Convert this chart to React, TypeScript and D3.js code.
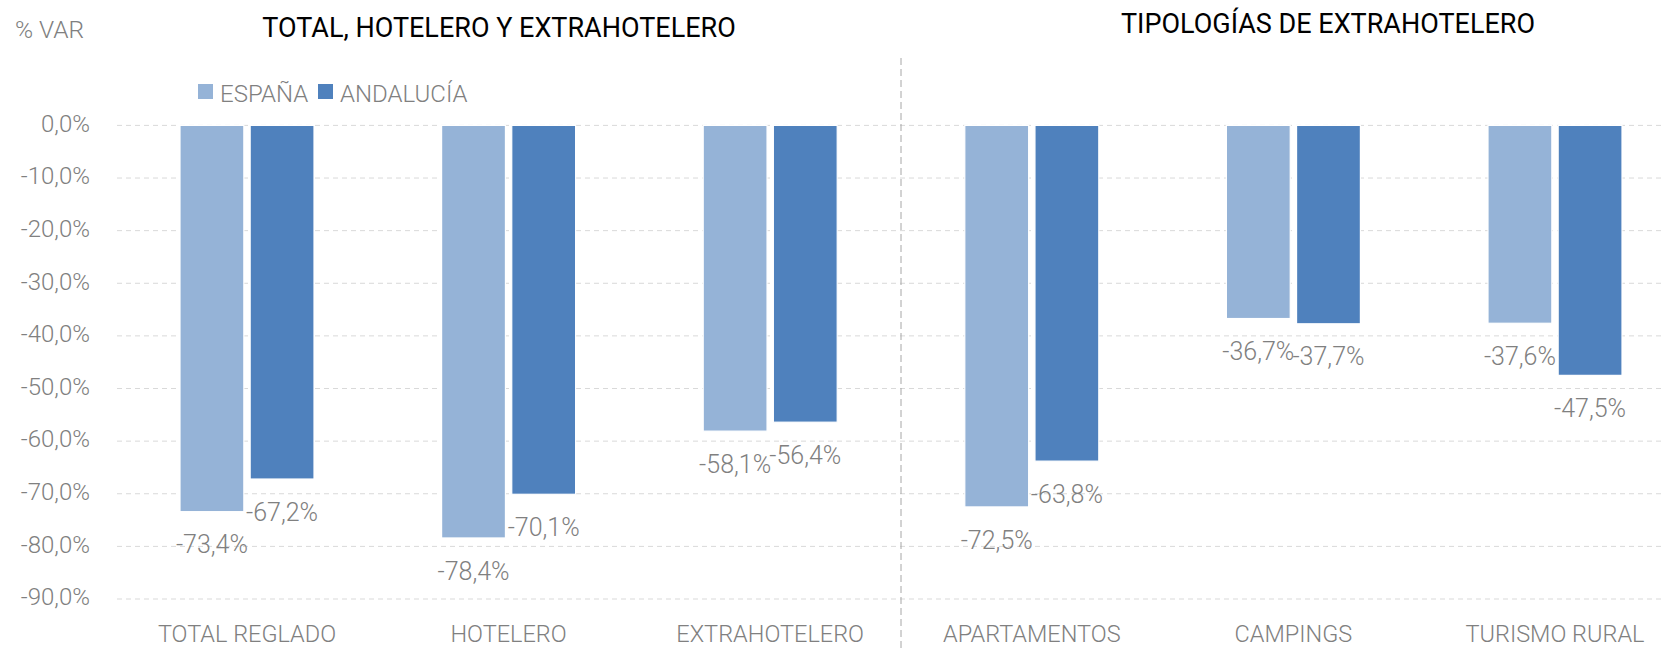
import { useEffect } from 'react';
import * as d3 from 'd3';

const categories = ['TOTAL REGLADO', 'HOTELERO', 'EXTRAHOTELERO', 'APARTAMENTOS', 'CAMPINGS', 'TURISMO RURAL'];
const seriesNames = ['ESPAÑA', 'ANDALUCÍA'];
const espana = [-73.4, -78.4, -58.1, -72.5, -36.7, -37.6];
const andalucia = [-67.2, -70.1, -56.4, -63.8, -37.7, -47.5];
const yTicks = [0, -10, -20, -30, -40, -50, -60, -70, -80, -90];
const titles = ['TOTAL, HOTELERO Y EXTRAHOTELERO', 'TIPOLOGÍAS DE EXTRAHOTELERO'];

const colors = ['#95b3d7', '#4f81bd'];
const FONT = 'Roboto, "Open Sans", sans-serif';
const GREY = '#808080';

const esLocale = d3.formatLocale({
  decimal: ',',
  thousands: '.',
  grouping: [3],
  currency: ['', '€'],
  minus: '-',
});
const fmt = (v: number) => esLocale.format('.1f')(v) + '%';

export default function App() {
  useEffect(() => {
    document.body.style.margin = '0';
  }, []);

  const width = 1664;
  const height = 648;

  // chart runs past the right edge, like the original
  const x = d3.scaleBand<string>().domain(categories).range([116.2, 1685.8]);
  const xInner = d3.scaleBand<string>().domain(seriesNames).range([-67, 67]).paddingInner(0.09);
  const y = d3.scaleLinear().domain([-90, 0]).range([599, 125.4]);

  const series = [espana, andalucia];

  const sepX = ((x('EXTRAHOTELERO') ?? 0) + (x('APARTAMENTOS') ?? 0)) / 2 + x.bandwidth() / 2;

  return (
    <svg width={width} height={height} style={{ display: 'block', background: '#fff' }} fontFamily={FONT}>
      {/* gridlines */}
      {yTicks.map((t) => (
        <line
          key={t}
          x1={117}
          x2={width}
          y1={y(t)}
          y2={y(t)}
          stroke="#d9d9d9"
          strokeWidth={1}
          strokeDasharray="5,4"
        />
      ))}

      {/* y tick labels */}
      {yTicks.map((t) => (
        <text
          key={'l' + t}
          x={90}
          y={y(t)}
          textAnchor="end"
          dominantBaseline="middle"
          fontSize={24}
          fontWeight={300}
          fill={GREY}
        >
          {fmt(t)}
        </text>
      ))}

      {/* separator */}
      <line x1={sepX} x2={sepX} y1={58} y2={height} stroke="#a6a6a6" strokeWidth={1} strokeDasharray="7,4" />

      {/* bars */}
      {categories.map((c, i) => {
        const cx = (x(c) ?? 0) + x.bandwidth() / 2;
        return (
          <g key={c}>
            {series.map((vals, s) => {
              const bx = cx + (xInner(seriesNames[s]) ?? 0);
              const v = vals[i];
              return (
                <g key={s}>
                  <rect
                    x={bx}
                    y={y(0)}
                    width={xInner.bandwidth()}
                    height={y(v) - y(0)}
                    fill={colors[s]}
                    stroke="#fff"
                    strokeWidth={1.2}
                  />
                  <text
                    x={bx + xInner.bandwidth() / 2}
                    y={y(v) + 35}
                    textAnchor="middle"
                    dominantBaseline="middle"
                    fontSize={25}
                    fontWeight={300}
                    fill={GREY}
                  >
                    {fmt(v)}
                  </text>
                </g>
              );
            })}
            <text x={cx} y={642} textAnchor="middle" fontSize={23.5} fontWeight={300} fill={GREY}>
              {c}
            </text>
          </g>
        );
      })}

      {/* titles */}
      <text x={15} y={38} fontSize={24.5} fontWeight={300} fill={GREY}>% VAR</text>
      <text x={499} y={37} textAnchor="middle" fontSize={27} fill="#000">{titles[0]}</text>
      <text x={1328} y={33} textAnchor="middle" fontSize={27} fill="#000">{titles[1]}</text>

      {/* legend */}
      {seriesNames.map((n, s) => {
        const lx = [198, 318][s];
        return (
          <g key={n}>
            <rect x={lx} y={84} width={15} height={15} fill={colors[s]} />
            <text x={lx + 22} y={102} fontSize={24} fontWeight={300} fill={GREY}>{n}</text>
          </g>
        );
      })}
    </svg>
  );
}
